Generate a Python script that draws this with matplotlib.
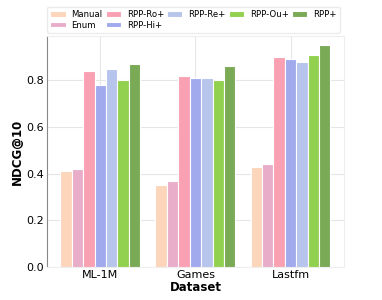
import matplotlib
matplotlib.use("Agg")
import matplotlib.pyplot as plt
import numpy as np

datasets = ["ML-1M", "Games", "Lastfm"]
methods = ["Manual", "Enum", "RPP-Ro+", "RPP-Hi+", "RPP-Re+", "RPP-Ou+", "RPP+"]
manual = [0.41, 0.35, 0.43]
enum = [0.42, 0.37, 0.44]
rpp_ro = [0.84, 0.82, 0.90]
rpp_hi = [0.78, 0.81, 0.89]
rpp_re = [0.85, 0.81, 0.88]
rpp_ou = [0.80, 0.80, 0.91]
rpp = [0.87, 0.86, 0.95]
series = [manual, enum, rpp_ro, rpp_hi, rpp_re, rpp_ou, rpp]
colors = ["#FDD5BA", "#E8ADC9", "#F9A1B2", "#A1AAEC", "#B7C4EC", "#92D150", "#7AAA55"]

fig = plt.figure(figsize=(3.82, 3.0), dpi=100)
ax = fig.add_axes([0.123, 0.11, 0.777, 0.77])
x = np.arange(len(datasets))
w = 0.12
for i, (m, vals, c) in enumerate(zip(methods, series, colors)):
    ax.bar(x + (i - 3) * w, vals, width=w, color=c, edgecolor="white", linewidth=0.8, label=m, zorder=3)

ax.set_xlim(-0.56, 2.56)
ax.set_ylim(0, 0.99)
ax.set_yticks([0.0, 0.2, 0.4, 0.6, 0.8])
ax.set_xticks(x)
ax.set_xticklabels(datasets)
ax.tick_params(axis="both", labelsize=8, length=0, pad=2)
ax.grid(True, color="#e6e6e6", linewidth=0.8, zorder=0)
for s in ["top", "right", "bottom"]:
    ax.spines[s].set_color("#eeeeee")
ax.spines["left"].set_color("#888888")
ax.set_xlabel("Dataset", fontsize=8.5, fontweight="bold", labelpad=1)
ax.set_ylabel("NDCG@10", fontsize=8.5, fontweight="bold", labelpad=2)
ax.legend(loc="lower left", bbox_to_anchor=(0, 1.013), ncol=5,
          fontsize=6.1, frameon=True, edgecolor="#e6e6e6", handlelength=1.8, handleheight=0.6,
          columnspacing=0.35, handletextpad=0.7, borderpad=0.4, labelspacing=0.2, borderaxespad=0)
fig.savefig("out.png", dpi=100)
